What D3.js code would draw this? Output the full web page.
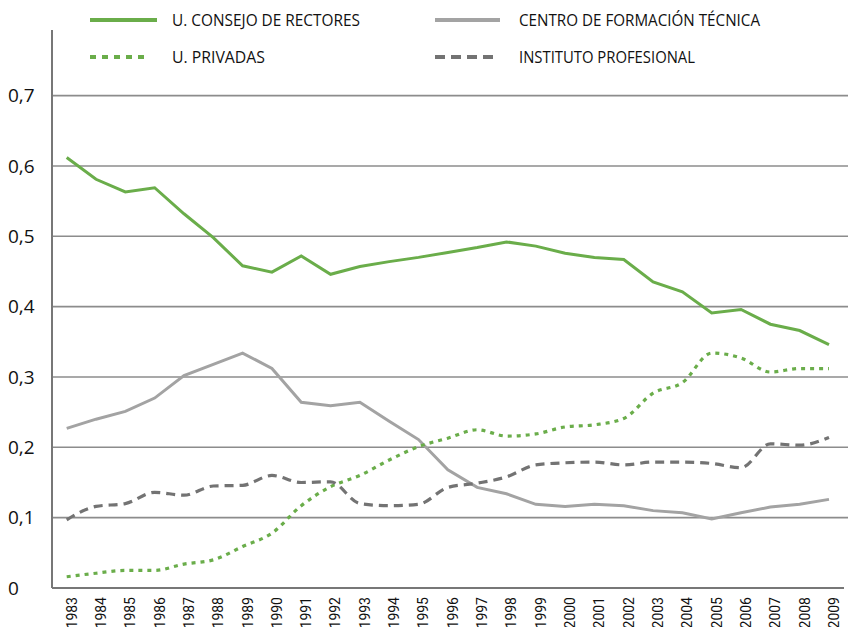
<!DOCTYPE html>
<html>
<head>
<meta charset="utf-8">
<script src="https://cdn.jsdelivr.net/npm/d3@7"></script>
<style>
  body { margin: 0; background: #fff; }
  svg { display: block; }
</style>
</head>
<body>
<svg id="chart" width="848" height="627"></svg>
<script>
const years = d3.range(1983, 2010);

const consejoRectores = [0.612, 0.581, 0.563, 0.569, 0.532, 0.498, 0.458, 0.449, 0.472, 0.446,
  0.457, 0.464, 0.470, 0.477, 0.484, 0.492, 0.486, 0.476, 0.470, 0.467,
  0.435, 0.421, 0.391, 0.396, 0.375, 0.366, 0.346];

const privadas = [0.016, 0.021, 0.025, 0.025, 0.034, 0.040, 0.059, 0.078, 0.117, 0.144,
  0.160, 0.182, 0.201, 0.213, 0.225, 0.216, 0.219, 0.229, 0.232, 0.241,
  0.277, 0.292, 0.334, 0.327, 0.307, 0.312, 0.312];

const cft = [0.227, 0.240, 0.251, 0.270, 0.302, 0.318, 0.334, 0.312, 0.264, 0.259,
  0.264, 0.237, 0.211, 0.168, 0.143, 0.134, 0.119, 0.116, 0.119, 0.117,
  0.110, 0.107, 0.098, 0.107, 0.115, 0.119, 0.126];

const instituto = [0.097, 0.116, 0.120, 0.136, 0.132, 0.145, 0.146, 0.160, 0.150, 0.151,
  0.120, 0.117, 0.119, 0.143, 0.149, 0.158, 0.175, 0.178, 0.179, 0.175,
  0.179, 0.179, 0.177, 0.171, 0.205, 0.203, 0.214];

const yTicks = [0, 0.1, 0.2, 0.3, 0.4, 0.5, 0.6, 0.7];

const series = [
  { name: "U. CONSEJO DE RECTORES", values: consejoRectores, color: "#6aad4a", dash: null, curve: d3.curveLinear, w: 3 },
  { name: "CENTRO DE FORMACIÓN TÉCNICA", values: cft, color: "#a3a3a3", dash: null, curve: d3.curveLinear, w: 3 },
  { name: "U. PRIVADAS", values: privadas, color: "#6aad4a", dash: "4,5", curve: d3.curveMonotoneX, w: 3.2 },
  { name: "INSTITUTO PROFESIONAL", values: instituto, color: "#737373", dash: "9,6", curve: d3.curveMonotoneX, w: 3.2 }
];

const svg = d3.select("#chart");
const axisLeftX = 52, rightX = 848, baseY = 588;

const x = d3.scalePoint().domain(years).range([66.7, 829]);
const y = d3.scaleLinear().domain([0, 0.7]).range([baseY, 95.6]);

// gridlines
svg.append("g")
  .selectAll("line")
  .data(yTicks.filter(d => d > 0))
  .join("line")
  .attr("x1", axisLeftX).attr("x2", rightX)
  .attr("y1", d => y(d)).attr("y2", d => y(d))
  .attr("stroke", "#8c8c8c")
  .attr("stroke-width", 1.6);

// y labels
svg.append("g")
  .selectAll("text")
  .data(yTicks)
  .join("text")
  .attr("x", 8)
  .attr("y", d => y(d))
  .attr("dy", "0.36em")
  .attr("font-family", "'Open Sans', sans-serif")
  .attr("font-size", 19)
  .attr("fill", "#111")
  .text(d => d === 0 ? "0" : d3.format(".1f")(d).replace(".", ","));

// x labels
svg.append("g")
  .selectAll("text")
  .data(years)
  .join("text")
  .attr("transform", d => `translate(${x(d) + 5},597) rotate(-90)`)
  .attr("text-anchor", "end")
  .attr("dy", "0.35em")
  .attr("font-family", "Roboto, sans-serif")
  .attr("font-size", 14)
  .attr("fill", "#111")
  .text(d => d);

// lines
const line = d3.line().x((d, i) => x(years[i])).y(d => y(d));
svg.append("g")
  .selectAll("path")
  .data(series)
  .join("path")
  .attr("fill", "none")
  .attr("stroke", d => d.color)
  .attr("stroke-width", d => d.w)
  .attr("stroke-dasharray", d => d.dash)
  .attr("d", d => line.curve(d.curve)(d.values));

// axes lines
svg.append("line")
  .attr("x1", axisLeftX).attr("x2", axisLeftX)
  .attr("y1", 30).attr("y2", baseY)
  .attr("stroke", "#777").attr("stroke-width", 2);
svg.append("line")
  .attr("x1", axisLeftX).attr("x2", 844)
  .attr("y1", baseY).attr("y2", baseY)
  .attr("stroke", "#777").attr("stroke-width", 2);

// legend
const legendPos = [
  { lx: 90, ly: 20, len: 67, tx: 172, tw: 188 },
  { lx: 435, ly: 20, len: 65, tx: 519, tw: 241 },
  { lx: 90, ly: 57, len: 60, tx: 172, tw: 93 },
  { lx: 435, ly: 57, len: 60, tx: 519, tw: 176 }
];
const legendDash = [null, null, "6,6", "10,6"];
const legend = svg.append("g").selectAll("g").data(series).join("g");
legend.append("line")
  .attr("x1", (d, i) => legendPos[i].lx)
  .attr("x2", (d, i) => legendPos[i].lx + legendPos[i].len)
  .attr("y1", (d, i) => legendPos[i].ly)
  .attr("y2", (d, i) => legendPos[i].ly)
  .attr("stroke", d => d.color)
  .attr("stroke-width", 4)
  .attr("stroke-dasharray", (d, i) => legendDash[i]);
legend.append("text")
  .attr("x", (d, i) => legendPos[i].tx)
  .attr("y", (d, i) => legendPos[i].ly)
  .attr("dy", "0.36em")
  .attr("font-family", "'Liberation Sans Narrow', 'Open Sans', sans-serif")
  .attr("font-size", 17)
  .attr("fill", "#111")
  .attr("textLength", (d, i) => legendPos[i].tw)
  .attr("lengthAdjust", "spacingAndGlyphs")
  .text(d => d.name);
</script>
</body>
</html>
